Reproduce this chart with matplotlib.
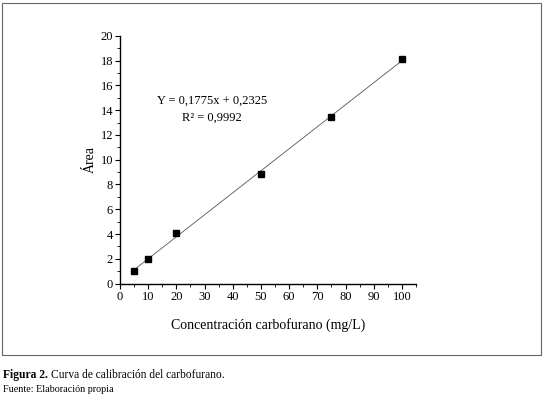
import matplotlib.pyplot as plt
import numpy as np
from matplotlib.patches import Rectangle
from matplotlib.ticker import MultipleLocator

plt.rcParams['font.family'] = ['Liberation Serif', 'DejaVu Serif']

# Calibration data
concentracion = [5, 10, 20, 50, 75, 100]
area = [1.02, 2.02, 4.05, 8.87, 13.42, 18.13]
pendiente = 0.1775
intercepto = 0.2325

fig = plt.figure(figsize=(5.44, 3.95), dpi=100)
ax = fig.add_axes([0.2206, 0.2818, 0.5441, 0.6278])

# fitted line
x_fit = np.array([concentracion[0], concentracion[-1]])
ax.plot(x_fit, pendiente * x_fit + intercepto, color='#555555', linewidth=0.6, zorder=2)
ax.plot(concentracion, area, linestyle='none', marker='s', markersize=4.8,
        color='black', zorder=3, clip_on=False)

ax.set_xlim(0, 105)
ax.set_ylim(0, 20)
ax.xaxis.set_major_locator(MultipleLocator(10))
ax.xaxis.set_minor_locator(MultipleLocator(5))
ax.yaxis.set_major_locator(MultipleLocator(2))
ax.yaxis.set_minor_locator(MultipleLocator(1))
ax.spines['top'].set_visible(False)
ax.spines['right'].set_visible(False)
for s in ['left', 'bottom']:
    ax.spines[s].set_linewidth(1.0)
ax.tick_params(which='major', direction='out', length=3.5, width=0.8, labelsize=9, pad=1.5)
ax.tick_params(which='minor', direction='out', length=2, width=0.6)

ax.set_xlabel('Concentración carbofurano (mg/L)', fontsize=10, labelpad=11)
ax.set_ylabel('Área', fontsize=10, labelpad=3)

ax.text(32.6, 14.1, 'Y = 0,1775x + 0,2325\nR² = 0,9992', ha='center', va='center',
        fontsize=9, linespacing=1.55)

# frame around the plot
fig.patches.append(Rectangle((2 / 544, 1 - 355 / 395), 539 / 544, 352 / 395,
                             transform=fig.transFigure, fill=False,
                             edgecolor='#666666', linewidth=0.8))

t1 = fig.text(3 / 544, 1 - 375 / 395, 'Figura 2.', fontsize=8.3, fontweight='bold', va='center')
fig.canvas.draw()
bb = t1.get_window_extent()
fig.text(bb.x1 / 544 + 3 / 544, 1 - 375 / 395, 'Curva de calibración del carbofurano.',
         fontsize=8.3, va='center')
fig.text(3 / 544, 1 - 389 / 395, 'Fuente: Elaboración propia', fontsize=7.3, va='center')

fig.savefig('out.png', dpi=100)
